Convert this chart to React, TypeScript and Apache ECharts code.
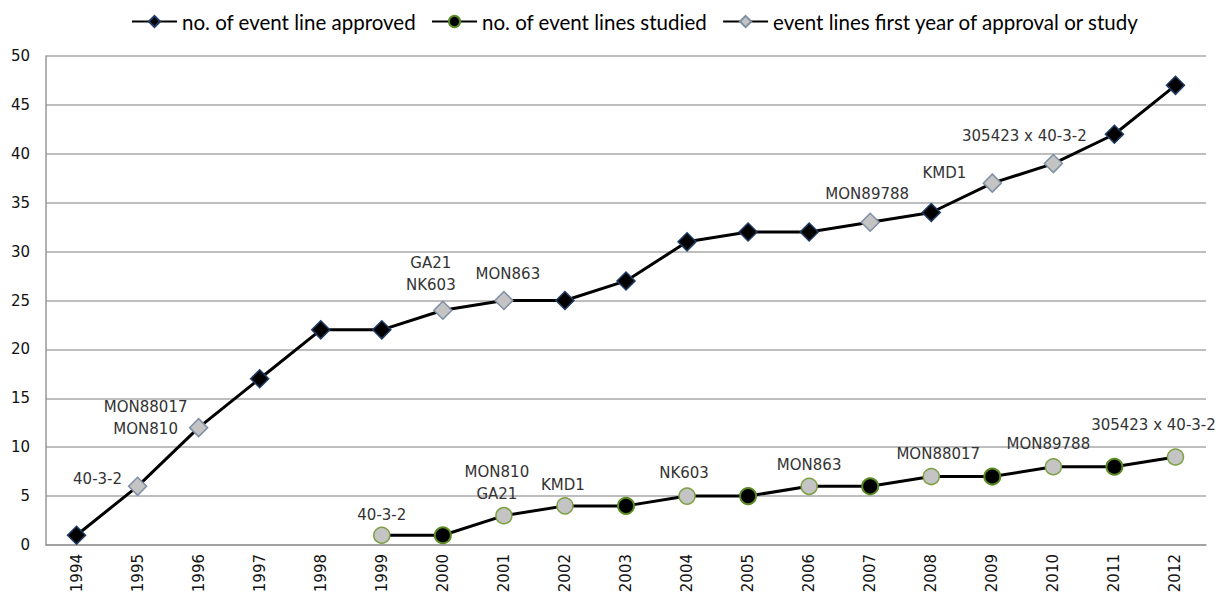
import React, { useEffect, useRef } from "react";
import * as echarts from "echarts";

const years = ["1994","1995","1996","1997","1998","1999","2000","2001","2002","2003","2004","2005","2006","2007","2008","2009","2010","2011","2012"];
const approved = [1, 6, 12, 17, 22, 22, 24, 25, 25, 27, 31, 32, 32, 33, 34, 37, 39, 42, 47];
const studied: (number | null)[] = [null, null, null, null, null, 1, 1, 3, 4, 4, 5, 5, 6, 6, 7, 7, 8, 8, 9];

// event names at the first year of approval / study ("" = none)
const approvedFirst = ["", "40-3-2", "MON88017\nMON810", "", "", "", "GA21\nNK603", "MON863", "", "", "", "", "", "MON89788", "", "KMD1", "305423 x 40-3-2", "", ""];
const studiedFirst = ["", "", "", "", "", "40-3-2", "", "MON810\nGA21", "KMD1", "", "NK603", "", "MON863", "", "MON88017", "", "MON89788", "", "305423 x 40-3-2"];

const legendNames = ["no. of event line approved", "no. of event lines studied", "event lines first year of approval or study"];
const yTicks = { min: 0, max: 50, interval: 5 };

// label offsets (layout only)
const approvedOffsets: Record<number, [number, number]> = {
  1: [-40, -7], 2: [-53, -10], 6: [-12, -36], 7: [4, -27], 13: [-3, -28], 15: [-48, -10], 16: [-29, -28],
};
const studiedOffsets: Record<number, [number, number]> = {
  5: [0, -20], 7: [-7, -33], 8: [-2, -21], 10: [-3, -23], 12: [0, -21], 14: [7, -23], 16: [-5, -23], 18: [-22, -32],
};

const labelFont = {
  fontFamily: "DejaVu Sans",
  fontSize: 15,
  color: "#333",
  lineHeight: 22,
};

const GRAY = "#c4c4c4";

export default function App() {
  const ref = useRef<HTMLDivElement>(null);
  useEffect(() => {
    if (!ref.current) return;
    const chart = echarts.init(ref.current, null, { renderer: "svg" });

    const approvedData = approved.map((v, i) => {
      const name = approvedFirst[i];
      if (!name) return v;
      return {
        value: v,
        itemStyle: { color: GRAY, borderColor: "#7f8fa3", borderWidth: 1.5 },
        label: {
          show: true,
          formatter: name,
          position: "inside",
          align: "center",
          verticalAlign: "middle",
          offset: approvedOffsets[i],
          ...labelFont,
        },
      };
    });
    const studiedData = studied.map((v, i) => {
      const name = studiedFirst[i];
      if (v === null || !name) return v;
      return {
        value: v,
        itemStyle: { color: GRAY, borderColor: "#7da043", borderWidth: 1.5 },
        label: {
          show: true,
          formatter: name,
          position: "inside",
          align: "center",
          verticalAlign: "middle",
          offset: studiedOffsets[i],
          ...labelFont,
        },
      };
    });

    chart.setOption({
      animation: false,
      backgroundColor: "#fff",
      legend: {
        top: 6,
        left: 126,
        itemWidth: 45,
        itemHeight: 14,
        itemGap: 15,
        data: legendNames,
        textStyle: { fontFamily: "Lato", fontSize: 20.5, color: "#000" },
      },
      grid: { left: 46, right: 21, top: 56, bottom: 55, containLabel: false },
      xAxis: {
        type: "category",
        data: years,
        boundaryGap: true,
        axisLine: { show: true, lineStyle: { color: "#999", width: 1.5 } },
        axisTick: { show: false },
        axisLabel: { rotate: 90, interval: 0, margin: 9, fontFamily: "DejaVu Sans", fontSize: 15, color: "#111" },
        splitLine: { show: false },
      },
      yAxis: {
        type: "value",
        min: yTicks.min,
        max: yTicks.max,
        interval: yTicks.interval,
        axisLine: { show: true, lineStyle: { color: "#999", width: 1.5 } },
        axisTick: { show: false },
        axisLabel: { margin: 16, fontFamily: "DejaVu Sans", fontSize: 15, color: "#111" },
        splitLine: { show: true, lineStyle: { color: "#a8a8a8", width: 1.5 } },
      },
      series: [
        {
          name: legendNames[0],
          type: "line",
          data: approvedData,
          symbol: "diamond",
          symbolSize: 18,
          lineStyle: { color: "#000", width: 3 },
          itemStyle: { color: "#000", borderColor: "#1f3d66", borderWidth: 1.5 },
          z: 3,
        },
        {
          name: legendNames[1],
          type: "line",
          data: studiedData,
          symbol: "circle",
          symbolSize: 16,
          lineStyle: { color: "#000", width: 3 },
          itemStyle: { color: "#000", borderColor: "#5a8a22", borderWidth: 2 },
          z: 3,
        },
        {
          name: legendNames[2],
          type: "line",
          data: years.map(() => null),
          symbol: "diamond",
          symbolSize: 14,
          lineStyle: { color: "#000", width: 3 },
          itemStyle: { color: GRAY, borderColor: "#7f8fa3", borderWidth: 1 },
        },
      ],
    });
    return () => chart.dispose();
  }, []);
  return <div ref={ref} style={{ position: "fixed", left: 0, top: 0, width: 1227, height: 600 }} />;
}
